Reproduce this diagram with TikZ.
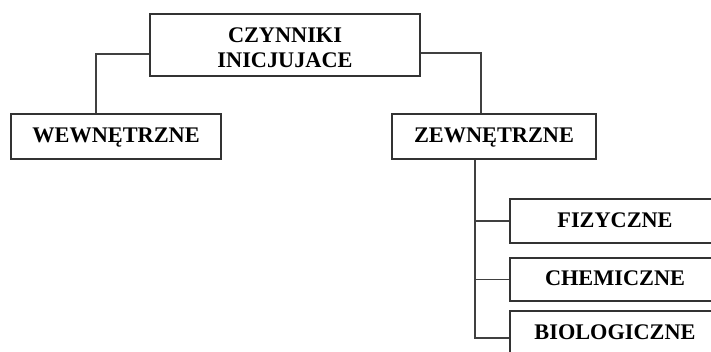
\documentclass[tikz,border=0pt]{standalone}
\usepackage{fontspec}
\setmainfont{Liberation Serif}

\begin{document}
\begin{tikzpicture}[x=1pt,y=-1pt,
  box/.style={draw=black!80,line width=1.2pt,rectangle,inner sep=0pt,align=center,
    text height=15pt,text depth=2pt,font=\fontsize{22.3}{25}\selectfont\bfseries},
  wire/.style={draw=black!75,line width=1.2pt}]
  \clip (0,0) rectangle (711,352);
  \node[box,minimum width=270pt,minimum height=62pt,text height=45pt,text depth=0pt] (root) at (285,45) {CZYNNIKI\\INICJUJACE};
  \node[box,minimum width=210pt,minimum height=45pt] (wew) at (116,136.5) {WEWNĘTRZNE};
  \node[box,minimum width=204pt,minimum height=45pt] (zew) at (494,136.5) {ZEWNĘTRZNE};
  \node[box,minimum width=210pt,minimum height=44pt] (fiz) at (615,221) {FIZYCZNE};
  \node[box,minimum width=210pt,minimum height=43pt] (chem) at (615,279.5) {CHEMICZNE};
  \node[box,minimum width=210pt,minimum height=44pt] (bio) at (615,333) {BIOLOGICZNE};
  \draw[wire] ([yshift=-9pt]root.west) -| ([xshift=-20pt]wew.north);
  \draw[wire] ([yshift=-8pt]root.east) -| ([xshift=-13pt]zew.north);
  \coordinate (trunk) at ([xshift=-19pt]zew.south);
  \draw[wire] (trunk) |- ([yshift=-5pt]bio.west);
  \draw[wire] (trunk |- fiz.west) -- (fiz.west);
  \draw[wire] (trunk |- chem.west) -- (chem.west);
\end{tikzpicture}
\end{document}
